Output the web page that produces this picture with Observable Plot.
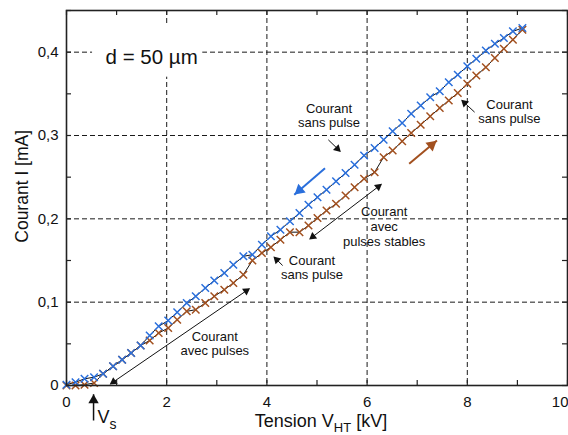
<!DOCTYPE html>
<html><head><meta charset="utf-8">
<script src="https://cdn.jsdelivr.net/npm/d3@7"></script>
<script src="https://cdn.jsdelivr.net/npm/@observablehq/plot@0.6"></script>
<style>body{margin:0;background:#fff;}</style>
</head><body><div id="chart"></div>
<script>
// ---- data ----
const voltage = [0, 0.18, 0.36, 0.55, 0.73, 0.93, 1.11, 1.29, 1.48, 1.66, 1.84, 2.03, 2.21, 2.40, 2.58, 2.77, 2.95, 3.15, 3.33, 3.53, 3.71, 3.90, 4.08, 4.27, 4.46, 4.65, 4.83, 5.01, 5.19, 5.38, 5.57, 5.75, 5.94, 6.15, 6.33, 6.51, 6.70, 6.88, 7.07, 7.26, 7.45, 7.63, 7.81, 8.00, 8.18, 8.37, 8.55, 8.73, 8.91, 9.10];
const currentDown = [0.001, 0.004, 0.008, 0.010, 0.014, 0.023, 0.031, 0.039, 0.048, 0.060, 0.071, 0.078, 0.088, 0.099, 0.107, 0.117, 0.126, 0.135, 0.145, 0.155, 0.157, 0.169, 0.179, 0.187, 0.197, 0.207, 0.217, 0.226, 0.235, 0.245, 0.255, 0.265, 0.276, 0.285, 0.295, 0.305, 0.315, 0.326, 0.336, 0.346, 0.353, 0.364, 0.373, 0.383, 0.392, 0.402, 0.410, 0.417, 0.425, 0.429];
const currentUp = [0.000, 0.000, 0.001, 0.003, 0.014, 0.023, 0.031, 0.039, 0.048, 0.054, 0.063, 0.069, 0.079, 0.089, 0.091, 0.099, 0.107, 0.115, 0.123, 0.133, 0.150, 0.159, 0.166, 0.175, 0.184, 0.184, 0.192, 0.201, 0.210, 0.218, 0.228, 0.238, 0.248, 0.256, 0.274, 0.282, 0.293, 0.303, 0.313, 0.323, 0.333, 0.342, 0.351, 0.362, 0.372, 0.382, 0.393, 0.404, 0.415, 0.427];

const xTickLabels = [0, 2, 4, 6, 8];
const xLastTick = [10];
const yTickLabels = [0, 0.1, 0.2, 0.3, 0.4];
const xGrid = [2, 4, 6, 8];
const yGrid = [0.1, 0.2, 0.3, 0.4];
const xMinor = [0, 1, 2, 3, 4, 5, 6, 7, 8, 9, 10];
const yMinor = [0, 0.05, 0.1, 0.15, 0.2, 0.25, 0.3, 0.35, 0.4, 0.45];

// annotations (data coordinates)
const noteTexts = ["Courant\nsans pulse", "Courant\nsans pulse", "Courant\navec\npulses stables", "Courant\nsans pulse", "Courant\navec pulses"];
const noteX = [5.24, 8.84, 6.34, 4.90, 2.96];
const noteY = [0.324, 0.329, 0.191, 0.1416, 0.0504];

const arrowX1 = [5.226, 8.146, 5.16, 6.84, 4.86, 4.314, 0.88, 0.54];
const arrowY1 = [0.2948, 0.328, 0.2608, 0.266, 0.176, 0.144, 0.002, -0.042];
const arrowX2 = [5.46, 7.894, 4.546, 7.394, 6.28, 4.146, 3.646, 0.54];
const arrowY2 = [0.2812, 0.342, 0.2288, 0.294, 0.2412, 0.154, 0.116, -0.0105];
const arrowColor = ["#111", "#111", "#2a6fdc", "#a2501f", "#111", "#111", "#111", "#111"];
const arrowWidth = [1, 1, 2, 2, 1, 1, 1, 1.5];
const arrowHead = [2.3, 2.3, 4.5, 4.5, 2.3, 2.3, 2.3, 3.8];
const arrowDouble = [false, false, false, false, true, false, true, false];

const labelBox = {x1: 0.52, x2: 2.72, y1: 0.370, y2: 0.432};

const blue = "#2a6fdc";
const brown = "#a2501f";

// ---- build tables ----
const down = voltage.map((v, i) => ({v, c: currentDown[i]}));
const up = voltage.map((v, i) => ({v, c: currentUp[i]}));
const notes = noteTexts.map((t, i) => ({t, x: noteX[i], y: noteY[i]}));
const arrows = arrowX1.map((x1, i) => ({x1, y1: arrowY1[i], x2: arrowX2[i], y2: arrowY2[i], color: arrowColor[i], w: arrowWidth[i], r: arrowHead[i], dbl: arrowDouble[i]}));

const W = 568, H = 435, mL = 66, mR = 1, mT = 10, mB = 50;
const xDom = [0, 10], yDom = [0, 0.45];
const kx = (W - mL - mR) / (xDom[1] - xDom[0]);
const ky = (H - mT - mB) / (yDom[1] - yDom[0]);

// arrow heads: triangle centroids pulled back from the tip
const heads = [];
for (const a of arrows) {
  const ends = [[a.x1, a.y1, a.x2, a.y2]];
  if (a.dbl) ends.push([a.x2, a.y2, a.x1, a.y1]);
  for (const [sx, sy, ex, ey] of ends) {
    const px = (ex - sx) * kx, py = (ey - sy) * ky;
    const len = Math.hypot(px, py);
    const size = Math.PI * a.r * a.r;
    const tip = 2 * Math.sqrt(size / (Math.sqrt(3) * 3));
    heads.push({
      x: ex - (px / len) * tip / kx,
      y: ey - (py / len) * tip / ky,
      rot: Math.atan2(px, py) * 180 / Math.PI,
      r: a.r, color: a.color
    });
  }
}

const fmtY = d => d === 0 ? "0" : d.toFixed(1).replace(".", ",");
const tickLen = 5;
const frameH = H - mT - mB, frameW = W - mL - mR;

const chart = Plot.plot({
  width: W, height: H,
  marginLeft: mL, marginRight: mR, marginTop: mT, marginBottom: mB,
  x: {domain: xDom},
  y: {domain: yDom},
  style: {fontFamily: "'Liberation Sans', Arial, Helvetica, sans-serif", fontSize: "15px", background: "white", color: "#111", overflow: "visible"},
  marks: [
    Plot.ruleX(xGrid, {stroke: "#1a1a1a", strokeWidth: 1, strokeDasharray: "5,3"}),
    Plot.ruleY(yGrid, {stroke: "#1a1a1a", strokeWidth: 1, strokeDasharray: "5,3"}),
    Plot.rect([labelBox], {x1: "x1", x2: "x2", y1: "y1", y2: "y2", fill: "white"}),
    Plot.text(["d = 50 µm"], {x: 1.70, y: 0.394, text: d => d, fontSize: 20.5, fill: "#111"}),
    Plot.line(up, {x: "v", y: "c", stroke: "#111", strokeWidth: 1}),
    Plot.line(down, {x: "v", y: "c", stroke: "#111", strokeWidth: 1}),
    Plot.dot(up, {x: "v", y: "c", symbol: "times", r: 3.5, stroke: brown, strokeWidth: 1.5}),
    Plot.dot(down, {x: "v", y: "c", symbol: "times", r: 3.5, stroke: blue, strokeWidth: 1.5}),
    Plot.link(arrows, {x1: "x1", y1: "y1", x2: "x2", y2: "y2", stroke: d => d.color, strokeWidth: d => d.w, clip: false}),
    Plot.dot(heads, {x: "x", y: "y", symbol: "triangle", r: d => d.r, fill: d => d.color, stroke: "none", rotate: "rot"}),
    Plot.text(notes, {x: "x", y: "y", text: "t", fontSize: 13, lineHeight: 1.12, fill: "#111"}),
    Plot.text(["Vs"], {x: 0.62, y: -0.0375, text: d => d, textAnchor: "start", fontSize: 18, fill: "#111"}),
    Plot.text(["Tension VHT [kV]"], {x: 5.08, y: -0.0432, text: d => d, fontSize: 18, fill: "#111"}),
    Plot.text(["Courant I [mA]"], {x: -0.89, y: 0.239, text: d => d, rotate: -90, fontSize: 17.5, fill: "#111"}),
    Plot.frame({stroke: "#222", strokeWidth: 1.6}),
    Plot.ruleX(xMinor, {stroke: "#222", strokeWidth: 1.2, insetTop: frameH - tickLen}),
    Plot.ruleX(xMinor, {stroke: "#222", strokeWidth: 1.2, insetBottom: frameH - tickLen}),
    Plot.ruleY(yMinor, {stroke: "#222", strokeWidth: 1.2, insetRight: frameW - tickLen}),
    Plot.ruleY(yMinor, {stroke: "#222", strokeWidth: 1.2, insetLeft: frameW - tickLen}),
    Plot.axisX({ticks: xTickLabels, tickSize: 0, tickPadding: 11, fontSize: 15, label: null, tickFormat: d => String(d)}),
    Plot.axisX({ticks: xLastTick, tickSize: 0, tickPadding: 11, fontSize: 15, label: null, textAnchor: "end", dx: 1, tickFormat: d => String(d)}),
    Plot.axisY({ticks: yTickLabels, tickSize: 0, tickPadding: 8, fontSize: 15, label: null, tickFormat: fmtY})
  ]
});

// subscripts
const NS = "http://www.w3.org/2000/svg";
function sub(el, main, subText, rest, fs, shift) {
  el.textContent = "";
  el.appendChild(document.createTextNode(main));
  const s = document.createElementNS(NS, "tspan");
  s.setAttribute("font-size", fs);
  s.setAttribute("dy", shift);
  s.textContent = subText;
  el.appendChild(s);
  if (rest) {
    const r = document.createElementNS(NS, "tspan");
    r.setAttribute("dy", -shift);
    r.textContent = rest;
    el.appendChild(r);
  }
}
chart.querySelectorAll("text").forEach(t => {
  if (t.textContent === "Tension VHT [kV]") sub(t, "Tension V", "HT", " [kV]", 13, 5);
  else if (t.textContent === "Vs") sub(t, "V", "s", null, 14, 6);
});
document.getElementById("chart").appendChild(chart);
</script>
</body></html>
